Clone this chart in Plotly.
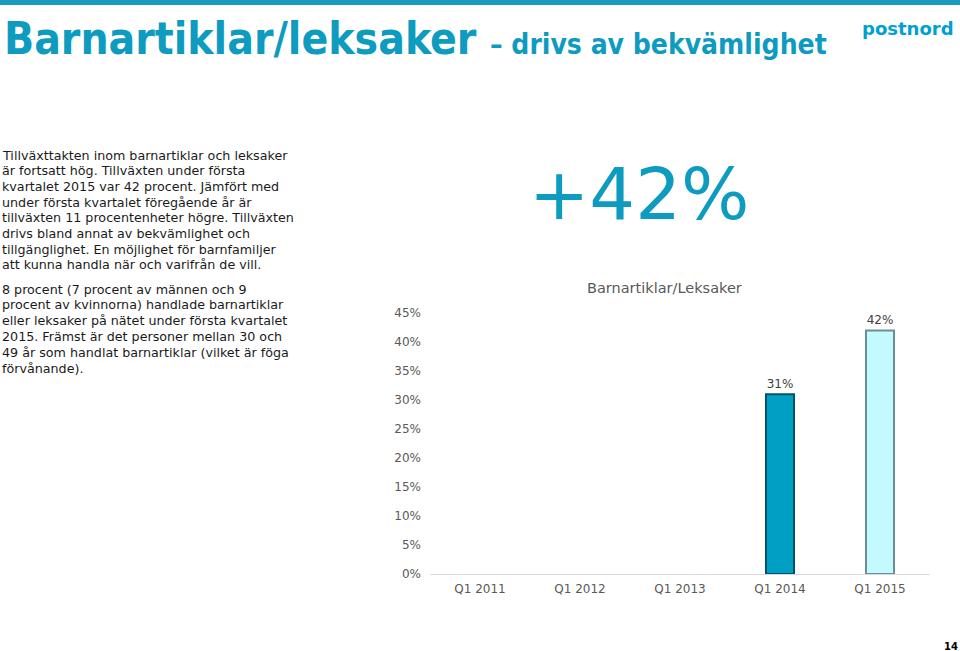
import plotly.graph_objects as go

# ---- data ----
categories = ["Q1 2011", "Q1 2012", "Q1 2013", "Q1 2014", "Q1 2015"]
growth = [None, None, None, 0.31, 0.42]
bar_fill = ["#00A0C4", "#00A0C4", "#00A0C4", "#00A0C4", "#C4F9FF"]
bar_edge = ["#00536B", "#00536B", "#00536B", "#00536B", "#6B8F9A"]
y_ticks = [0, 0.05, 0.10, 0.15, 0.20, 0.25, 0.30, 0.35, 0.40, 0.45]

chart_title = "Barnartiklar/Leksaker"
headline = "+42%"
title_main = "Barnartiklar/leksaker"
title_sub = "– drivs av bekvämlighet"
para1 = [
    "Tillväxttakten inom barnartiklar och leksaker",
    "är fortsatt hög. Tillväxten under första",
    "kvartalet 2015 var 42 procent. Jämfört med",
    "under första kvartalet föregående år är",
    "tillväxten 11 procentenheter högre. Tillväxten",
    "drivs bland annat av bekvämlighet och",
    "tillgänglighet. En möjlighet för barnfamiljer",
    "att kunna handla när och varifrån de vill.",
]
para2 = [
    "8 procent (7 procent av männen och 9",
    "procent av kvinnorna) handlade barnartiklar",
    "eller leksaker på nätet under första kvartalet",
    "2015. Främst är det personer mellan 30 och",
    "49 år som handlat barnartiklar (vilket är föga",
    "förvånande).",
]
page_no = "14"

W, H = 960, 651
BLUE = "#0E9BC0"
GREY = "#595959"
FONT = "DejaVu Sans"


def px(x):
    return x / W


def py(y):
    return 1 - y / H


fig = go.Figure()
fig.add_trace(go.Bar(
    x=categories,
    y=growth,
    width=0.28,
    marker=dict(color=bar_fill, line=dict(color=bar_edge, width=2)),
    texttemplate="%{y:.0%}",
    textposition="outside",
    textfont=dict(family=FONT, size=12, color="#404040"),
    cliponaxis=False,
    hoverinfo="skip",
))

fig.update_layout(
    width=W, height=H,
    margin=dict(l=0, r=0, t=0, b=0, autoexpand=False),
    paper_bgcolor="white",
    plot_bgcolor="white",
    showlegend=False,
    xaxis=dict(
        domain=[px(430), px(930)],
        automargin=False,
        showline=True, linecolor="#D9D9D9", linewidth=1,
        showgrid=False, zeroline=False, ticks="",
        tickfont=dict(family=FONT, size=12, color=GREY),
        ticklabelstandoff=4,
    ),
    yaxis=dict(
        domain=[py(574), py(313)],
        range=[0, 0.45],
        automargin=False,
        tickvals=y_ticks, tickformat=".0%",
        showline=False, showgrid=False, zeroline=False, ticks="",
        tickfont=dict(family=FONT, size=12, color=GREY),
        ticklabelstandoff=8,
    ),
)

# top band
fig.add_shape(type="rect", xref="paper", yref="paper",
              x0=0, x1=1, y0=py(5), y1=1,
              fillcolor="#1A9CBF", line=dict(width=0), layer="above")

ann = []
ann.append(dict(text="<b>" + title_main + "</b>", x=px(2), y=py(38),
                xanchor="left", yanchor="middle",
                font=dict(family="DejaVu Sans Condensed", size=44, color=BLUE)))
ann.append(dict(text="<b>" + title_sub + "</b>", x=px(488), y=py(44),
                xanchor="left", yanchor="middle",
                font=dict(family="DejaVu Sans Condensed", size=28, color=BLUE)))
ann.append(dict(text="<b>postnord</b>", x=px(908), y=py(29),
                xanchor="center", yanchor="middle",
                font=dict(family=FONT, size=18, color="#00A0D2")))
ann.append(dict(text=headline, x=px(639), y=py(194),
                xanchor="center", yanchor="middle",
                font=dict(family=FONT, size=72, color=BLUE)))
ann.append(dict(text=chart_title, x=px(664), y=py(288),
                xanchor="center", yanchor="middle",
                font=dict(family=FONT, size=14.5, color=GREY)))
for i, line in enumerate(para1):
    ann.append(dict(text=line, x=px(0), y=py(155 + i * 15.7),
                    xanchor="left", yanchor="middle",
                    font=dict(family=FONT, size=12.7, color="#1A1A1A")))
for i, line in enumerate(para2):
    ann.append(dict(text=line, x=px(0), y=py(289 + i * 15.9),
                    xanchor="left", yanchor="middle",
                    font=dict(family=FONT, size=12.7, color="#1A1A1A")))
ann.append(dict(text="<b>" + page_no + "</b>", x=px(951), y=py(646),
                xanchor="center", yanchor="middle",
                font=dict(family=FONT, size=10, color="#000000")))

for a in ann:
    a.update(xref="paper", yref="paper", showarrow=False)
fig.update_layout(annotations=ann)

fig.write_html(
    "out.html",
    config={"displayModeBar": False},
    post_script="document.body.style.margin='0';document.body.style.overflow='hidden';",
)
